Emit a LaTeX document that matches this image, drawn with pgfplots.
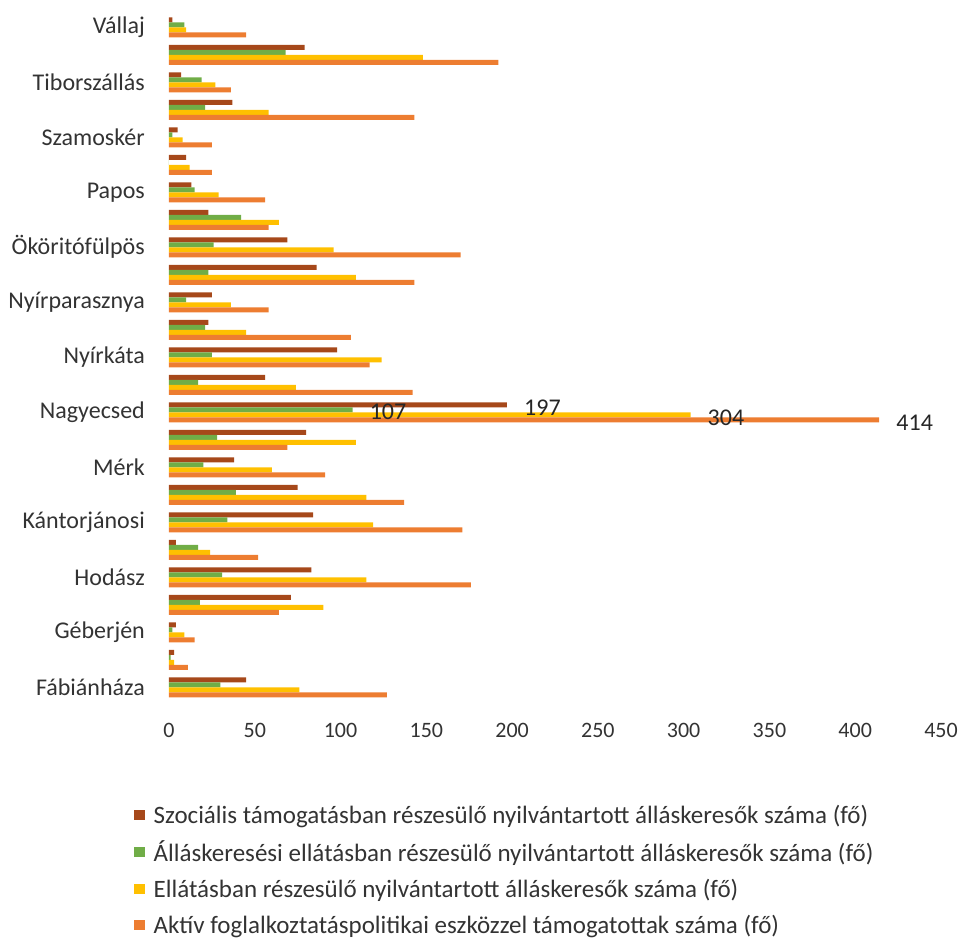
\documentclass[border=0pt]{standalone}
\usepackage{pgfplots}
\pgfplotsset{compat=1.18}
\usepackage{fontspec}
\setmainfont{Carlito}
\usetikzlibrary{calc}
\definecolor{cbrown}{RGB}{166,72,26}
\definecolor{cgreen}{RGB}{112,173,71}
\definecolor{cyellow}{RGB}{255,192,0}
\definecolor{corange}{RGB}{237,125,49}
\pgfplotstableread{
y brown green yellow orange
0 2 9 10 45
1 79 68 148 192
2 7 19 27 36
3 37 21 58 143
4 5 2 8 25
5 10 0 12 25
6 13 15 29 56
7 23 42 64 58
8 69 26 96 170
9 86 23 109 143
10 25 10 36 58
11 23 21 45 106
12 98 25 124 117
13 56 17 74 142
14 197 107 304 414
15 80 28 109 69
16 38 20 60 91
17 75 39 115 137
18 84 34 119 171
19 4 17 24 52
20 83 31 115 176
21 71 18 90 64
22 4 2 9 15
23 3 1 3 11
24 45 30 76 127
}\datatable
\begin{document}
\begin{tikzpicture}
\begin{axis}[name=ax, scale only axis, width=772pt, height=687.5pt,
  xmin=0, xmax=450, ymin=-0.5, ymax=24.5, y dir=reverse,
  xbar, bar width=5pt,
  axis line style={draw=none}, major tick length=0pt,
  xtick={0,50,...,450}, ytick={0,2,...,24},
  yticklabels={Vállaj, Tiborszállás, Szamoskér, Papos, Ököritófülpös, Nyírparasznya, Nyírkáta, Nagyecsed, Mérk, Kántorjánosi, Hodász, Géberjén, Fábiánháza},
  /pgf/number format/assume math mode=true,
  xticklabel style={font=\fontsize{22}{26}\selectfont, color=black!80, inner sep=0pt, anchor=north, yshift=-22pt},
  yticklabel style={font=\fontsize{24}{28}\selectfont, color=black!80, inner sep=0pt, anchor=east, xshift=-24pt},
  legend style={draw=none, fill=none, at={(-0.046,-0.148)}, anchor=north west, font=\fontsize{25}{29}\selectfont, text=black!80, row sep=12pt, column sep=7pt, inner sep=0pt},
  legend cell align=left,
]
\addplot[fill=cbrown, draw=none, bar shift=7.5pt, legend image code/.code={\fill[cbrown] (0pt,-5pt) rectangle (11pt,5pt);}] table[x=brown, y=y] {\datatable};
\addlegendentry{Szociális támogatásban részesülő nyilvántartott álláskeresők száma (fő)}
\addplot[fill=cgreen, draw=none, bar shift=2.5pt, legend image code/.code={\fill[cgreen] (0pt,-5pt) rectangle (11pt,5pt);}] table[x=green, y=y] {\datatable};
\addlegendentry{Álláskeresési ellátásban részesülő nyilvántartott álláskeresők száma (fő)}
\addplot[fill=cyellow, draw=none, bar shift=-2.5pt, legend image code/.code={\fill[cyellow] (0pt,-5pt) rectangle (11pt,5pt);}] table[x=yellow, y=y] {\datatable};
\addlegendentry{Ellátásban részesülő nyilvántartott álláskeresők száma (fő)}
\addplot[fill=corange, draw=none, bar shift=-7.5pt, legend image code/.code={\fill[corange] (0pt,-5pt) rectangle (11pt,5pt);}] table[x=orange, y=y] {\datatable};
\addlegendentry{Aktív foglalkoztatáspolitikai eszközzel támogatottak száma (fő)}
\node[anchor=west, font=\fontsize{24}{28}\selectfont, text=black!85, inner sep=0pt] at ([xshift=17pt, yshift=5pt]axis cs:197,14) {197};
\node[anchor=west, font=\fontsize{24}{28}\selectfont, text=black!85, inner sep=0pt] at ([xshift=17pt]axis cs:107,14) {107};
\node[anchor=west, font=\fontsize{24}{28}\selectfont, text=black!85, inner sep=0pt] at ([xshift=17pt, yshift=-6pt]axis cs:304,14) {304};
\node[anchor=west, font=\fontsize{24}{28}\selectfont, text=black!85, inner sep=0pt] at ([xshift=17pt, yshift=-11pt]axis cs:414,14) {414};
\end{axis}
\pgfresetboundingbox
\path[use as bounding box] ($(ax.south west)+(-169pt,-238pt)$) rectangle ($(ax.south west)+(795pt,701pt)$);
\end{tikzpicture}
\end{document}
